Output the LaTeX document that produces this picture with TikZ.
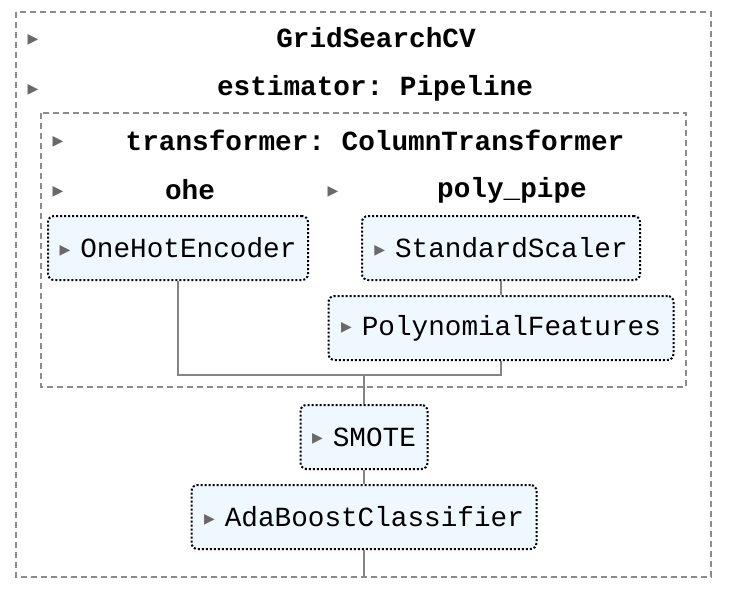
\documentclass[tikz,border=0pt]{standalone}
\usepackage{fontspec}
\setmonofont{Liberation Mono}
\newfontfamily\symfont{DejaVu Sans}
\usepackage{xcolor}
\usetikzlibrary{positioning,calc}

\definecolor{boxfill}{HTML}{F0F8FF}
\definecolor{framegray}{HTML}{8C8C8C}
\definecolor{wiregray}{HTML}{858585}
\definecolor{caretgray}{HTML}{696969}

\newcommand{\togl}{\raisebox{1.6pt}{\symfont\fontsize{7}{7}\selectfont\textcolor{caretgray}{▶}}\hspace{5pt}}

\begin{document}
\begin{tikzpicture}[
    x=0.5pt, y=-0.5pt,
    every node/.style={font=\ttfamily\fontsize{13.85}{16}\selectfont},
    frame/.style={
        draw=framegray,
        line width=1pt,
        dash pattern=on 3pt off 2pt
    },
    estbox/.style={
        draw=black,
        line width=1pt,
        dash pattern=on 1pt off 1pt,
        fill=boxfill,
        rounded corners=3pt,
        align=center,
        inner sep=2pt,
        minimum height=32pt
    },
    title/.style={font=\ttfamily\bfseries\fontsize{13.85}{16}\selectfont},
    toggle/.style={
        font=\symfont\fontsize{7}{7}\selectfont,
        text=caretgray,
        inner sep=0pt
    },
    wire/.style={draw=wiregray, line width=1pt}
]
\useasboundingbox (0,0) rectangle (742,604);

% ==========================================================
% FRAMES
% ==========================================================
\draw[frame] (16,12) rectangle (711,577);
\draw[frame] (41,113) rectangle (686,387);

% ==========================================================
% LABELS
% ==========================================================
\node[toggle] (tgrid) at (33,40) {▶};
\node[title] (grid) at (376,38) {GridSearchCV};

\node[toggle] (tpipe) at (33,90) {▶};
\node[title] (pipe) at (375,88) {estimator: Pipeline};

\node[toggle] (tcoltr) at (58,142) {▶};
\node[title] (coltr) at (375,140) {transformer: ColumnTransformer};

\node[toggle] (tohe) at (58,192) {▶};
\node[title] (ohe) at (190,190) {ohe};

\node[toggle] (tpoly) at (333,192) {▶};
\node[title] (polypipe) at (512,190) {poly\_pipe};

% ==========================================================
% ESTIMATORS
% ==========================================================
\node[estbox, minimum width=130pt] (onehot) at (178,248) {\togl OneHotEncoder};
\node[estbox, minimum width=139pt] (scaler) at (501,248) {\togl StandardScaler};
\node[estbox, minimum width=172.5pt] (polyfeat) at (501,328) {\togl PolynomialFeatures};
\node[estbox, minimum width=63.5pt] (smote) at (364,437) {\togl SMOTE};
\node[estbox, minimum width=172.5pt] (ada) at (364,517) {\togl AdaBoostClassifier};

% ==========================================================
% CONNECTIONS
% ==========================================================
\coordinate (merge) at (364,375);
\coordinate (tail) at (364,577);

\draw[wire] (scaler) -- (polyfeat);
\draw[wire] (onehot.south) |- (merge) -| (polyfeat.south);
\draw[wire] (merge) -- (smote.north);
\draw[wire] (smote) -- (ada);
\draw[wire] (ada.south) -- (tail);

\end{tikzpicture}
\end{document}
